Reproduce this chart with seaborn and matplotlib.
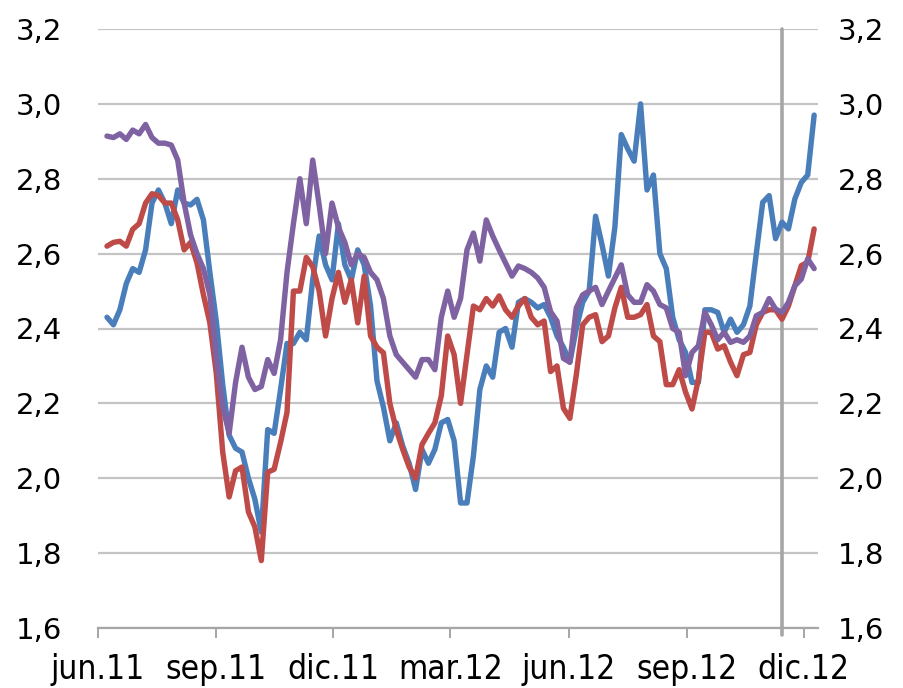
import numpy as np
import pandas as pd
import matplotlib
matplotlib.use("Agg")
import matplotlib.pyplot as plt
from matplotlib.ticker import FuncFormatter
import seaborn as sns

# Observations, one value every 5 calendar days from the start date
start_date = "2011-06-08"
step_days = 5

blue_values = [
    2.43, 2.41, 2.45, 2.52, 2.56, 2.55, 2.61, 2.735, 2.77, 2.735,
    2.68, 2.77, 2.735, 2.73, 2.745, 2.69, 2.55, 2.42, 2.25, 2.115,
    2.08, 2.07, 2.00, 1.944, 1.856, 2.13, 2.12, 2.237, 2.36, 2.36,
    2.39, 2.37, 2.53, 2.647, 2.57, 2.53, 2.68, 2.57, 2.53, 2.61,
    2.57, 2.46, 2.26, 2.19, 2.10, 2.148, 2.086, 2.04, 1.97, 2.077,
    2.04, 2.077, 2.148, 2.157, 2.10, 1.934, 1.934, 2.06, 2.237, 2.30,
    2.27, 2.39, 2.40, 2.35, 2.47, 2.48, 2.47, 2.455, 2.464, 2.43,
    2.38, 2.35, 2.31, 2.40, 2.47, 2.50, 2.70, 2.624, 2.54, 2.67,
    2.918, 2.88, 2.847, 3.00, 2.77, 2.81, 2.60, 2.56, 2.43, 2.37,
    2.336, 2.256, 2.256, 2.45, 2.45, 2.443, 2.39, 2.425, 2.39, 2.41,
    2.46, 2.60, 2.737, 2.755, 2.64, 2.684, 2.666, 2.746, 2.79, 2.81,
    2.97,
]

red_values = [
    2.62, 2.63, 2.633, 2.62, 2.665, 2.68, 2.735, 2.76, 2.755, 2.735,
    2.735, 2.69, 2.61, 2.63, 2.575, 2.49, 2.415, 2.28, 2.07, 1.95,
    2.02, 2.03, 1.91, 1.87, 1.78, 2.016, 2.024, 2.096, 2.176, 2.50,
    2.50, 2.59, 2.565, 2.50, 2.38, 2.48, 2.55, 2.47, 2.53, 2.415,
    2.54, 2.38, 2.35, 2.335, 2.20, 2.13, 2.077, 2.03, 2.00, 2.09,
    2.12, 2.148, 2.22, 2.38, 2.33, 2.20, 2.33, 2.46, 2.45, 2.48,
    2.46, 2.487, 2.45, 2.43, 2.46, 2.48, 2.43, 2.41, 2.42, 2.285,
    2.30, 2.187, 2.16, 2.276, 2.41, 2.43, 2.437, 2.365, 2.38, 2.455,
    2.51, 2.43, 2.43, 2.437, 2.464, 2.38, 2.365, 2.25, 2.25, 2.29,
    2.23, 2.185, 2.265, 2.39, 2.39, 2.345, 2.354, 2.31, 2.274, 2.33,
    2.336, 2.41, 2.443, 2.45, 2.45, 2.425, 2.46, 2.514, 2.568, 2.577,
    2.666,
]

purple_values = [
    2.914, 2.91, 2.92, 2.905, 2.93, 2.92, 2.945, 2.91, 2.895, 2.895,
    2.89, 2.85, 2.735, 2.65, 2.60, 2.56, 2.49, 2.32, 2.19, 2.12,
    2.256, 2.35, 2.27, 2.237, 2.245, 2.317, 2.28, 2.37, 2.55, 2.68,
    2.80, 2.68, 2.85, 2.73, 2.60, 2.735, 2.67, 2.63, 2.57, 2.60,
    2.59, 2.55, 2.53, 2.48, 2.38, 2.33, 2.31, 2.29, 2.27, 2.317,
    2.317, 2.29, 2.43, 2.50, 2.43, 2.48, 2.61, 2.655, 2.58, 2.69,
    2.647, 2.61, 2.575, 2.54, 2.567, 2.56, 2.55, 2.535, 2.51, 2.445,
    2.42, 2.32, 2.31, 2.455, 2.49, 2.50, 2.51, 2.464, 2.50, 2.535,
    2.57, 2.49, 2.47, 2.47, 2.517, 2.50, 2.464, 2.455, 2.40, 2.39,
    2.274, 2.336, 2.354, 2.443, 2.41, 2.37, 2.39, 2.363, 2.37, 2.363,
    2.38, 2.434, 2.443, 2.48, 2.452, 2.443, 2.47, 2.514, 2.532, 2.586,
    2.56,
]

series_names = ["Serie 1", "Serie 2", "Serie 3"]
series_colors = ["#4A7EBB", "#BE4B48", "#7E62A1"]

tick_dates = ["2011-06-01", "2011-09-01", "2011-12-01", "2012-03-01",
              "2012-06-01", "2012-09-01", "2012-12-01"]
tick_labels = ["jun.11", "sep.11", "dic.11", "mar.12", "jun.12", "sep.12", "dic.12"]
y_ticks = [1.6, 1.8, 2.0, 2.2, 2.4, 2.6, 2.8, 3.0, 3.2]
x_start, x_end = "2011-06-01", "2012-12-12"
marker_date = "2012-11-14"

dates = pd.date_range(start_date, periods=len(blue_values), freq=f"{step_days}D")
df = pd.DataFrame({
    "fecha": np.concatenate([dates, dates, dates]),
    "valor": blue_values + red_values + purple_values,
    "serie": np.repeat(series_names, len(dates)),
})

sns.set_theme(style="white")
plt.rcParams["font.family"] = ["DejaVu Sans"]

W, H = 904, 688
fig = plt.figure(figsize=(W / 100, H / 100), dpi=100)
ax = fig.add_axes([98 / W, 60 / H, 720 / W, 599 / H])

grid_color = "#C4C4C4"
axis_color = "#A6A6A6"

ax.set_ylim(1.6, 3.2)
ax.set_xlim(pd.Timestamp(x_start), pd.Timestamp(x_end))
ax.set_yticks(y_ticks)
ax.yaxis.grid(True, color=grid_color, linewidth=1.6)
ax.xaxis.grid(False)
ax.set_axisbelow(True)

ax.axvline(pd.Timestamp(marker_date), ymin=-0.012, ymax=1.0, color=axis_color,
           linewidth=2.6, clip_on=False, zorder=1.5)

sns.lineplot(data=df, x="fecha", y="valor", hue="serie", hue_order=series_names,
             palette=series_colors, linewidth=3.9, legend=False, ax=ax,
             solid_capstyle="round", solid_joinstyle="round")

comma = FuncFormatter(lambda v, _: f"{v:.1f}".replace(".", ","))
ax.yaxis.set_major_formatter(comma)
ax.set_xticks(pd.to_datetime(tick_dates))
ax.set_xticklabels(tick_labels)
ax.set_xlabel("")
ax.set_ylabel("")

for side in ["left", "right", "top"]:
    ax.spines[side].set_visible(False)
ax.spines["bottom"].set_color(axis_color)
ax.spines["bottom"].set_linewidth(1.6)

ax.yaxis.set_tick_params(which="both", length=0, width=0, left=False, right=False)
ax.tick_params(axis="y", labelsize=21, pad=26, labelcolor="black")
ax.tick_params(axis="x", bottom=True, direction="out", length=7, width=1.4,
               color=axis_color, labelsize=24, pad=11, labelcolor="black")
for lab in ax.get_xticklabels():
    lab.set_fontstretch("condensed")

ax2 = ax.twinx()
ax2.set_ylim(1.6, 3.2)
ax2.set_yticks(y_ticks)
ax2.yaxis.set_major_formatter(comma)
ax2.grid(False)
for side in ["left", "right", "top", "bottom"]:
    ax2.spines[side].set_visible(False)
ax2.yaxis.set_tick_params(which="both", length=0, width=0, left=False, right=False)
ax2.tick_params(axis="y", labelsize=21, pad=14, labelcolor="black")

fig.savefig("out.png", dpi=100, facecolor="white")
